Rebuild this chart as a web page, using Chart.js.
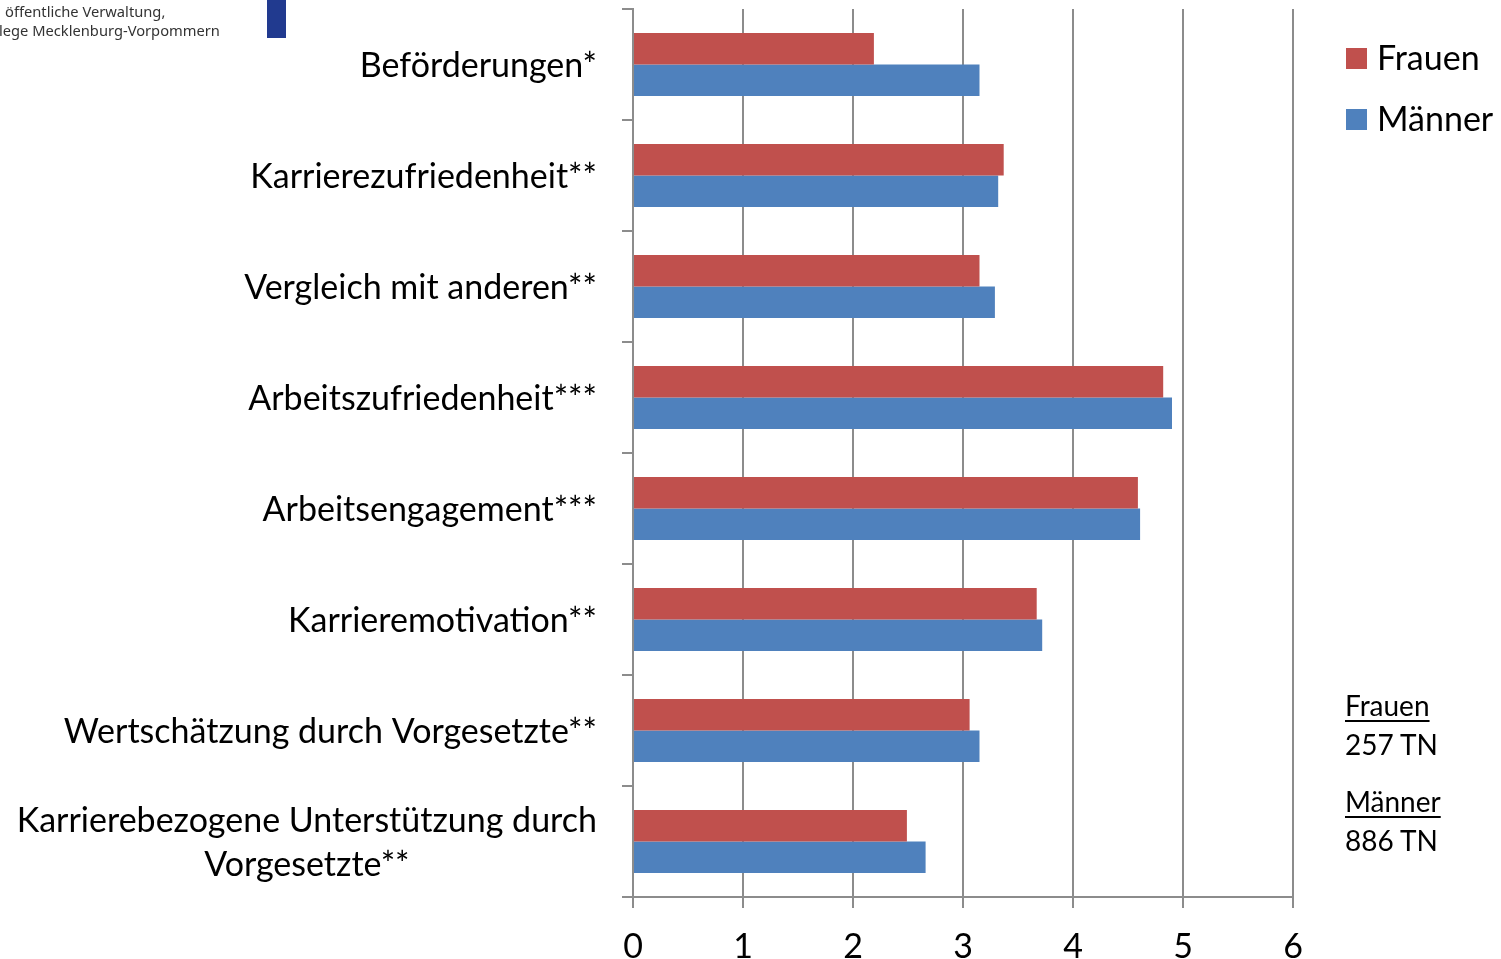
<!DOCTYPE html>
<html>
<head>
<meta charset="utf-8">
<script src="https://cdn.jsdelivr.net/npm/chart.js@4.4.0/dist/chart.umd.min.js"></script>
<style>
  html, body { margin: 0; padding: 0; background: #fff; }
  #wrap { position: relative; width: 1501px; height: 959px; overflow: hidden; font-family: Lato, sans-serif; }
  #chart { position: absolute; left: 0; top: 0; }
  .logo { position: absolute; font: 14.7px "Noto Sans", sans-serif; color: #333; white-space: nowrap; }
  .logoBar { position: absolute; left: 267px; top: 0; width: 19px; height: 38px; background: #213a8f; }
  #legend { position: absolute; left: 1346px; top: 40px; }
  #legend .row { position: relative; height: 61px; font-size: 34px; }
  #legend .box { position: absolute; left: 0; top: 8px; width: 21px; height: 21px; }
  #legend .txt { position: absolute; left: 31px; top: -3px; line-height: 40px; }
  #notes { position: absolute; left: 1345px; top: 686px; font-size: 28px; line-height: 39px; }
  #notes .grp { margin-bottom: 18px; }
  #notes u { text-underline-offset: 4px; text-decoration-thickness: 2px; }
</style>
</head>
<body>
<div id="wrap">
  <canvas id="chart" width="1501" height="959"></canvas>
  <div class="logo" style="left:5px;top:1px;">öffentliche Verwaltung,</div>
  <div class="logo" style="left:-1px;top:20px;">lege Mecklenburg-Vorpommern</div>
  <div class="logoBar"></div>
  <div id="legend"></div>
  <div id="notes"></div>
</div>
<script>
// Daten
const categories = [
  'Beförderungen*',
  'Karrierezufriedenheit**',
  'Vergleich mit anderen**',
  'Arbeitszufriedenheit***',
  'Arbeitsengagement***',
  'Karrieremotivation**',
  'Wertschätzung durch Vorgesetzte**',
  ['Karrierebezogene Unterstützung durch', 'Vorgesetzte**']
];
const seriesNames = ['Frauen', 'Männer'];
const frauen  = [2.19, 3.37, 3.15, 4.82, 4.59, 3.67, 3.06, 2.49];
const maenner = [3.15, 3.32, 3.29, 4.90, 4.61, 3.72, 3.15, 2.66];
const teilnehmer = [257, 886];
const xMin = 0, xMax = 6, xStep = 1;

const colors = ['#c0504d', '#4f81bd'];
const gridColor = '#8c8c8c';

// Achsenbeschriftung links (zentrierte Mehrzeiler)
const yLabelPlugin = {
  id: 'yLabels',
  afterDraw(chart) {
    const ctx = chart.ctx;
    const y = chart.scales.y;
    const rightEdge = chart.chartArea.left - 36;
    ctx.save();
    ctx.font = '34px Lato';
    ctx.fillStyle = '#000';
    ctx.textBaseline = 'middle';
    ctx.textAlign = 'center';
    categories.forEach((lab, i) => {
      const lines = Array.isArray(lab) ? lab : [lab];
      const w = Math.max(...lines.map(l => ctx.measureText(l).width));
      const cx = rightEdge - w / 2;
      const cy = y.getPixelForValue(i) + 2;
      lines.forEach((l, k) => {
        ctx.fillText(l, cx, cy + (k - (lines.length - 1) / 2) * 44);
      });
    });
    ctx.restore();
  }
};

const ctx = document.getElementById('chart');
new Chart(ctx, {
  type: 'bar',
  data: {
    labels: categories,
    datasets: [
      { label: seriesNames[0], data: frauen,  backgroundColor: colors[0] },
      { label: seriesNames[1], data: maenner, backgroundColor: colors[1] }
    ]
  },
  options: {
    indexAxis: 'y',
    responsive: false,
    animation: false,
    categoryPercentage: 0.567,
    barPercentage: 1.0,
    layout: { padding: { left: 0, right: 208, top: 9, bottom: 0 } },
    plugins: { legend: { display: false }, tooltip: { enabled: false } },
    scales: {
      x: {
        min: xMin, max: xMax,
        ticks: { stepSize: xStep, color: '#000', font: { family: 'Lato', size: 34 }, padding: 19 },
        grid: { color: gridColor, lineWidth: 2, tickLength: 11 },
        border: { color: gridColor, width: 2 },
        afterFit(s) { s.height = 62; }
      },
      y: {
        ticks: { display: false },
        grid: { offset: true, drawOnChartArea: false, color: gridColor, lineWidth: 2, tickLength: 11 },
        border: { color: gridColor, width: 2 },
        afterFit(s) { s.width = 633; }
      }
    }
  },
  plugins: [yLabelPlugin]
});

// Legende
const legend = document.getElementById('legend');
seriesNames.forEach((name, i) => {
  const row = document.createElement('div');
  row.className = 'row';
  row.innerHTML = '<span class="box" style="background:' + colors[i] + '"></span><span class="txt">' + name + '</span>';
  legend.appendChild(row);
});

// Teilnehmerzahlen
const notes = document.getElementById('notes');
seriesNames.forEach((name, i) => {
  const g = document.createElement('div');
  g.className = 'grp';
  g.innerHTML = '<u>' + name + '</u><br>' + teilnehmer[i] + ' TN';
  notes.appendChild(g);
});
</script>
</body>
</html>
